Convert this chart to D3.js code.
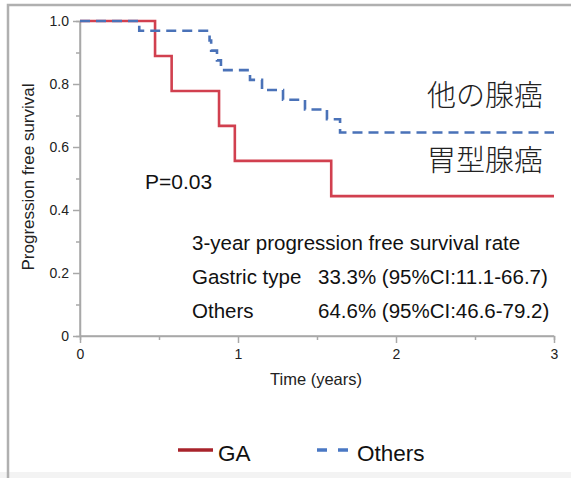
<!DOCTYPE html>
<html><head><meta charset="utf-8">
<script src="https://cdn.jsdelivr.net/npm/d3@7"></script>
<style>
html,body{margin:0;padding:0;background:#fff;}
svg{display:block;font-family:"Liberation Sans",Arial,Helvetica,sans-serif;}
</style></head>
<body>
<svg id="chart" width="571" height="478"></svg>
<script>
// ---- data ----
const gaTimes = [0, 0.475, 0.58, 0.88, 0.98, 1.59, 3];
const gaSurv  = [1, 0.889, 0.778, 0.667, 0.556, 0.444, 0.444];
const otTimes = [0, 0.375, 0.82, 0.83, 0.867, 0.892, 1.076, 1.152, 1.285, 1.424, 1.563, 1.646, 3];
const otSurv  = [1, 0.969, 0.938, 0.906, 0.875, 0.844, 0.813, 0.781, 0.75, 0.719, 0.688, 0.646, 0.646];
const xTicks = [0, 1, 2, 3];
const xMinor = [0.5, 1.5, 2.5];
const yTicks = [0, 0.2, 0.4, 0.6, 0.8, 1.0];
const yTickLabels = ["0", "0.2", "0.4", "0.6", "0.8", "1.0"];
const yMinor = [0.1, 0.3, 0.5, 0.7, 0.9];
const statTitle = "3-year progression free survival rate";
const statGroups = ["Gastric type", "Others"];
const statValues = ["33.3% (95%CI:11.1-66.7)", "64.6% (95%CI:46.6-79.2)"];
const legendNames = ["GA", "Others"];
const jpLabels = ["他の腺癌", "胃型腺癌"];

const svg = d3.select("#chart");
// frame
svg.append("rect").attr("x",0).attr("y",472).attr("width",571).attr("height",6).attr("fill","#f3f3f3");
svg.append("rect").attr("x",8).attr("y",5).attr("width",620).attr("height",520)
  .attr("fill","none").attr("stroke","#b0b0b0").attr("stroke-width",2.5);

const x = d3.scaleLinear().domain([0,3]).range([80,554]);
const y = d3.scaleLinear().domain([0,1]).range([336,21]);
const axisColor = "#a8a8a8";

// y axis
const gy = svg.append("g").attr("transform","translate(80,0)");
gy.call(d3.axisLeft(y).tickValues(yTicks).tickFormat((d,i)=>yTickLabels[i]).tickSize(7).tickPadding(4));
gy.append("g").call(d3.axisLeft(y).tickValues(yMinor).tickFormat("").tickSize(4));
// x axis
const gx = svg.append("g").attr("transform","translate(0,336)");
gx.call(d3.axisBottom(x).tickValues(xTicks).tickFormat(d3.format("d")).tickSize(7).tickPadding(6));
gx.append("g").call(d3.axisBottom(x).tickValues(xMinor).tickFormat("").tickSize(4));
svg.selectAll(".domain").attr("stroke",axisColor).attr("stroke-width",1.5);
svg.selectAll(".tick line").attr("stroke",axisColor).attr("stroke-width",1.5);
svg.selectAll(".tick text").attr("font-size",14).attr("fill","#222")
  .attr("font-family","'Liberation Sans',Arial,sans-serif");
gx.select(".domain").attr("d","M80,0H554");
gy.select(".domain").attr("d","M0,21V336");

// axis titles
svg.append("text").attr("transform","translate(34,177) rotate(-90)")
  .attr("text-anchor","middle").attr("font-size",17).attr("fill","#222").text("Progression free survival");
svg.append("text").attr("x",316).attr("y",385).attr("text-anchor","middle")
  .attr("font-size",16.5).attr("fill","#222").text("Time (years)");

// curves
const line = d3.line().curve(d3.curveStepAfter);
const gaPts = gaTimes.map((t,i)=>[x(t), y(gaSurv[i])]);
const otPts = otTimes.map((t,i)=>[x(t), y(otSurv[i])]);
svg.append("path").attr("d", line(gaPts)).attr("fill","none")
  .attr("stroke","#d1404f").attr("stroke-width",2.6);
svg.append("path").attr("d", line(otPts)).attr("fill","none")
  .attr("stroke","#4a72b8").attr("stroke-width",2.6).attr("stroke-dasharray","10,6");

// annotations
svg.append("text").attr("x",145).attr("y",189).attr("font-size",21).attr("fill","#111").text("P=0.03");
svg.append("text").attr("x",543).attr("y",106).attr("text-anchor","end")
  .attr("font-family","'Noto Sans CJK JP',sans-serif").attr("font-weight",300)
  .attr("font-size",29).attr("fill","#222").text(jpLabels[0]);
svg.append("text").attr("x",543).attr("y",171).attr("text-anchor","end")
  .attr("font-family","'Noto Sans CJK JP',sans-serif").attr("font-weight",300)
  .attr("font-size",29).attr("fill","#222").text(jpLabels[1]);

svg.append("text").attr("x",192).attr("y",250).attr("font-size",20.5).attr("fill","#111").text(statTitle);
statGroups.forEach((g,i)=>{
  const yy = 284 + i*34;
  svg.append("text").attr("x",192).attr("y",yy).attr("font-size",20.5).attr("fill","#111").text(g);
  svg.append("text").attr("x",318).attr("y",yy).attr("font-size",20.5).attr("fill","#111").text(statValues[i]);
});

// legend
svg.append("line").attr("x1",178).attr("x2",213).attr("y1",450).attr("y2",450)
  .attr("stroke","#a8232b").attr("stroke-width",3.5);
svg.append("text").attr("x",218).attr("y",461).attr("font-size",22.5).attr("fill","#111").text(legendNames[0]);
svg.append("line").attr("x1",317).attr("x2",349).attr("y1",450).attr("y2",450)
  .attr("stroke","#4a78c4").attr("stroke-width",3.5).attr("stroke-dasharray","10,11");
svg.append("text").attr("x",357).attr("y",461).attr("font-size",22.5).attr("fill","#111").text(legendNames[1]);
</script>
</body></html>
